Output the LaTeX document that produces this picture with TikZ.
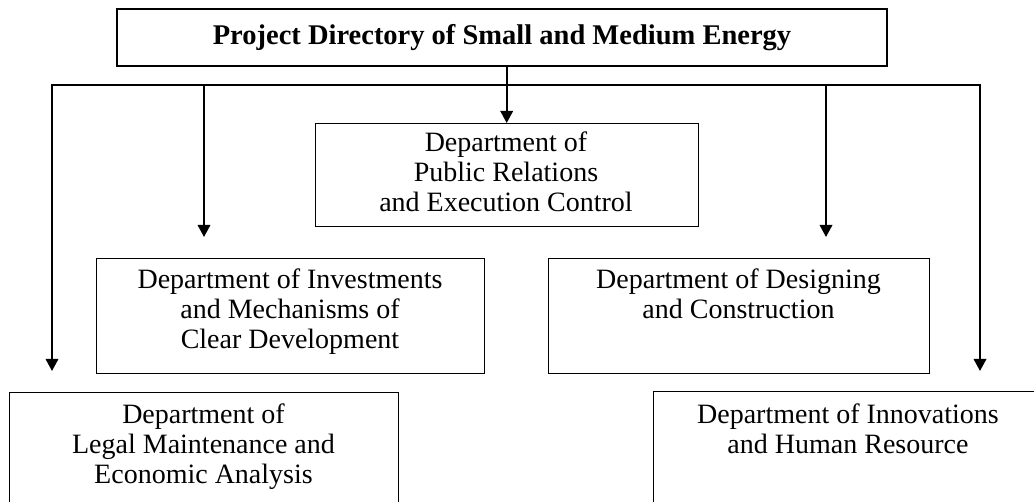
\documentclass[tikz,border=0pt]{standalone}
\usepackage{fontspec}
\setmainfont{Liberation Serif}
\usetikzlibrary{arrows.meta}
\begin{document}
\begin{tikzpicture}[x=1pt,y=-1pt,
  >={Triangle[length=12pt,width=12.5pt]},
  box/.style={draw, line width=1.4pt, inner sep=0pt, anchor=north west},
  lbl/.style={align=center, inner sep=0pt, anchor=north, font=\fontsize{28}{30}\selectfont},
  link/.style={line width=1.8pt},
  arr/.style={link, ->},
  arr2/.style={link, <->}]
\clip (0,0) rectangle (1034,502);

% head office
\node[draw, line width=1.4pt, minimum width=770pt, minimum height=57pt, inner sep=0pt,
      font=\bfseries\fontsize{28.5}{30}\selectfont] (dir) at (502,37.5)
      {Project Directory of Small and Medium Energy};

% departments (frames)
\node[box, minimum width=383pt, minimum height=103pt] (pr)  at (314.5,123) {};
\node[box, minimum width=388pt, minimum height=115pt] (inv) at (96,258) {};
\node[box, minimum width=381pt, minimum height=115pt] (des) at (548,258) {};
\node[box, minimum width=389pt, minimum height=130pt] (leg) at (9,392) {};
\node[box, minimum width=400pt, minimum height=130pt] (inn) at (653,391) {};

% departments (names)
\node[lbl] (prT)  at (506,132)   {Department of\\Public Relations\\and Execution Control};
\node[lbl] (invT) at (290,269)   {Department of Investments\\and Mechanisms of\\Clear Development};
\node[lbl] (desT) at (738.5,269) {Department of Designing\\and Construction};
\node[lbl] (legT) at (203.5,404) {Department of\\Legal Maintenance and\\Economic Analysis};
\node[lbl] (innT) at (848,404)   {Department of Innovations\\and Human Resource};

% distribution bus
\coordinate (busL) at (52,85);
\coordinate (busR) at (980,85);
\coordinate (busB) at (204,85);
\coordinate (busD) at (826,85);
\coordinate (tipL) at (52,371);
\coordinate (tipR) at (980,371);
\coordinate (tipB) at (204,237);
\coordinate (tipD) at (826,237);

\draw[arr2] (tipL) -- (busL) -- (busR) -- (tipR);
\draw[arr] (busB) -- (tipB);
\draw[arr] (busD) -- (tipD);
\draw[arr] (dir.south -| pr.north) -- (pr.north);
\end{tikzpicture}
\end{document}
